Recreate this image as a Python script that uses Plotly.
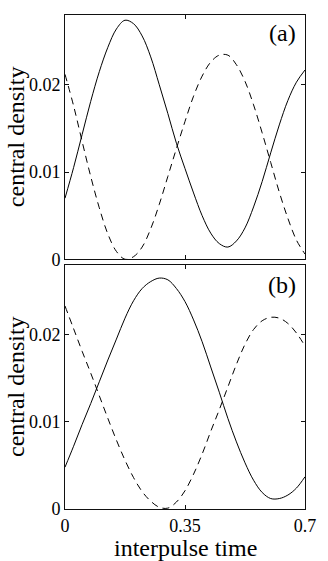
import plotly.graph_objects as go

# interpulse time samples
time = [0.0, 0.025, 0.05, 0.075, 0.1, 0.125, 0.15, 0.175, 0.2, 0.225,
        0.25, 0.275, 0.3, 0.325, 0.35, 0.375, 0.4, 0.425, 0.45, 0.475,
        0.5, 0.525, 0.55, 0.575, 0.6, 0.625, 0.65, 0.675, 0.7]

# panel (a)
a_solid = [0.0070, 0.0105, 0.0143, 0.0181, 0.0215, 0.0243, 0.0264, 0.0274, 0.0270, 0.0256,
           0.0232, 0.0200, 0.0167, 0.0133, 0.0104, 0.0076, 0.0050, 0.0030, 0.0018, 0.0014,
           0.0021, 0.0036, 0.0060, 0.0089, 0.0122, 0.0154, 0.0182, 0.0203, 0.0217]
a_dashed = [0.0212, 0.0176, 0.0135, 0.0095, 0.0059, 0.0029, 0.0009, 0.0000, 0.0003, 0.0014,
            0.0035, 0.0063, 0.0095, 0.0127, 0.0158, 0.0187, 0.0210, 0.0226, 0.0234, 0.0234,
            0.0223, 0.0204, 0.0177, 0.0145, 0.0111, 0.0077, 0.0047, 0.0022, 0.0006]

# panel (b)
b_solid = [0.0048, 0.0072, 0.0097, 0.0121, 0.0146, 0.0171, 0.0195, 0.0219, 0.0239, 0.0253,
           0.0261, 0.0265, 0.0263, 0.0253, 0.0238, 0.0217, 0.0192, 0.0163, 0.0134, 0.0104,
           0.0077, 0.0053, 0.0033, 0.0019, 0.0012, 0.0012, 0.0016, 0.0024, 0.0037]
b_dashed = [0.0233, 0.0207, 0.0181, 0.0156, 0.0130, 0.0104, 0.0079, 0.0056, 0.0036, 0.0020,
            0.0009, 0.0002, 0.0001, 0.0008, 0.0021, 0.0040, 0.0063, 0.0089, 0.0114, 0.0140,
            0.0166, 0.0189, 0.0206, 0.0216, 0.0220, 0.0219, 0.0213, 0.0202, 0.0187]

x_ticks = [0, 0.35, 0.7]
x_tick_text = ["0", "0.35", "0.7"]
y_ticks = [0, 0.01, 0.02]
y_tick_text = ["0", "0.01", "0.02"]

FONT = "Liberation Serif, Times New Roman, serif"
LINE = "#111111"

fig = go.Figure()
solid = dict(color="black", width=1)
dashed = dict(color="black", width=1, dash="7px,5px")

fig.add_trace(go.Scatter(x=time, y=a_solid, mode="lines", line=solid, line_shape="spline",
                         xaxis="x2", yaxis="y2", showlegend=False))
fig.add_trace(go.Scatter(x=time, y=a_dashed, mode="lines", line=dashed, line_shape="spline",
                         xaxis="x2", yaxis="y2", showlegend=False))
fig.add_trace(go.Scatter(x=time, y=b_solid, mode="lines", line=solid, line_shape="spline",
                         xaxis="x", yaxis="y", showlegend=False))
fig.add_trace(go.Scatter(x=time, y=b_dashed, mode="lines", line=dashed, line_shape="spline",
                         xaxis="x", yaxis="y", showlegend=False))

common_x = dict(range=[0, 0.7], tickvals=x_ticks, ticks="inside", ticklen=4,
                tickcolor=LINE, showline=True, linecolor=LINE, linewidth=1,
                mirror="allticks", showgrid=False, zeroline=False,
                tickfont=dict(family=FONT, size=18, color="black"))
common_y = dict(range=[0, 0.028], tickvals=y_ticks, ticktext=y_tick_text, ticks="inside",
                ticklen=4, tickcolor=LINE, showline=True, linecolor=LINE, linewidth=1,
                mirror="allticks", showgrid=False, zeroline=False,
                tickfont=dict(family=FONT, size=18, color="black"))

fig.update_layout(
    width=328, height=561,
    margin=dict(l=65, r=18, t=15, b=52),
    paper_bgcolor="white", plot_bgcolor="white",
    font=dict(family=FONT, color="black"),
    xaxis=dict(common_x, domain=[0, 1], anchor="y", ticktext=x_tick_text,
               showticklabels=True, ticklabelstandoff=0),
    yaxis=dict(common_y, domain=[0, 0.4939], anchor="x"),
    xaxis2=dict(common_x, domain=[0, 1], anchor="y2", showticklabels=False),
    yaxis2=dict(common_y, domain=[0.5055, 1], anchor="x2"),
    annotations=[
        dict(text="(a)", xref="paper", yref="paper", x=0.971, y=0.9636,
             xanchor="right", yanchor="middle", showarrow=False,
             font=dict(family=FONT, size=24, color="black")),
        dict(text="(b)", xref="paper", yref="paper", x=0.971, y=0.4534,
             xanchor="right", yanchor="middle", showarrow=False,
             font=dict(family=FONT, size=24, color="black")),
        dict(text="central density", xref="paper", yref="paper", x=-0.204, y=0.7528,
             xanchor="center", yanchor="middle", textangle=-90, showarrow=False,
             font=dict(family=FONT, size=24, color="black")),
        dict(text="central density", xref="paper", yref="paper", x=-0.204, y=0.2470,
             xanchor="center", yanchor="middle", textangle=-90, showarrow=False,
             font=dict(family=FONT, size=24, color="black")),
        dict(text="interpulse time", xref="paper", yref="paper", x=0.5, y=-0.0796,
             xanchor="center", yanchor="middle", showarrow=False,
             font=dict(family=FONT, size=24, color="black")),
    ],
)

fig.write_html("out.html",
               config={"displayModeBar": False},
               post_script="document.body.style.margin='0';document.body.style.overflow='hidden';")
